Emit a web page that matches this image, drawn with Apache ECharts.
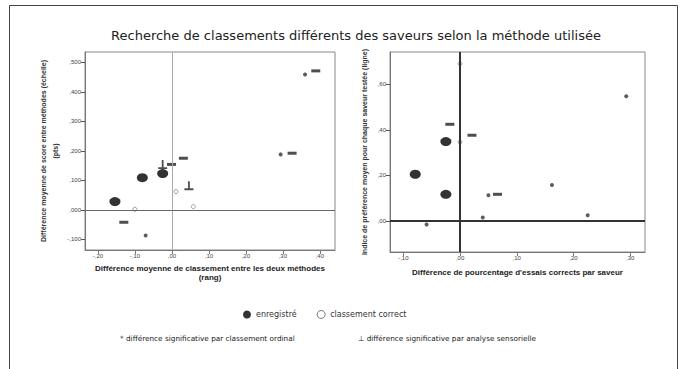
<!DOCTYPE html>
<html><head><meta charset="utf-8">
<script src="https://cdn.jsdelivr.net/npm/echarts@6/dist/echarts.min.js"></script>
<style>html,body{margin:0;padding:0;background:#fff}#c{width:685px;height:369px}</style>
</head><body><div id="c"></div>
<script>
const titleText = "Recherche de classements différents des saveurs selon la méthode utilisée";
const legendNames = ["enregistré", "classement correct"];
const footnoteStar = "* différence significative par classement ordinal";
const footnotePerp = "⊥ différence significative par analyse sensorielle";

const leftXName = "Différence moyenne de classement entre les deux méthodes\n(rang)";
const leftYName = "Différence moyenne de score entre méthodes (échelle)\n(pts)";
const rightXName = "Différence de pourcentage d'essais corrects par saveur";
const rightYName = "Indice de préférence moyen pour chaque saveur testée (ligne)";

const leftXTicks = [-0.2, -0.1, 0, 0.1, 0.2, 0.3, 0.4];
const leftXTickLabels = ['-,20', '-,10', ',00', ',10', ',20', ',30', ',40'];
const leftYTicks = [-0.1, 0, 0.1, 0.2, 0.3, 0.4, 0.5];
const leftYTickLabels = ['-,100', ',000', ',100', ',200', ',300', ',400', ',500'];
const rightXTicks = [-0.1, 0, 0.1, 0.2, 0.3];
const rightXTickLabels = ['-,10', ',00', ',10', ',20', ',30'];
const rightYTicks = [0, 0.2, 0.4, 0.6];
const rightYTickLabels = [',00', ',20', ',40', ',60'];

// left panel points [x, y]
const leftRecorded = [[-0.154, 0.028], [-0.080, 0.109], [-0.025, 0.123]];
const leftCorrect = [[-0.100, 0.002], [0.011, 0.062], [0.058, 0.011]];
const leftDash = [[-0.130, -0.042], [-0.001, 0.154], [0.031, 0.175], [0.325, 0.192], [0.389, 0.471]];
const leftPerp = [[-0.025, 0.154], [0.046, 0.082]];
const leftStar = [[-0.071, -0.087], [0.294, 0.188], [0.360, 0.459]];

// right panel points [x, y]
const rightRecorded = [[-0.079, 0.205], [-0.025, 0.348], [-0.025, 0.117]];
const rightCorrect = [[0.0, 0.690], [0.0, 0.346]];
const rightDash = [[-0.018, 0.424], [0.021, 0.376], [0.066, 0.117]];
const rightPerp = [];
const rightStar = [[-0.059, -0.015], [0.040, 0.015], [0.050, 0.113], [0.162, 0.158], [0.225, 0.025], [0.293, 0.547]];

const FONT = 'Liberation Sans';
const FONT2 = 'DejaVu Sans';
function fmt(ticks, labels) {
  return v => { const i = ticks.findIndex(t => Math.abs(t - v) < 1e-9); return i >= 0 ? labels[i] : ''; };
}
function xAxis(gi, min, max, ticks, labels, name, gap) {
  return {
    type: 'value', gridIndex: gi, min, max, position: 'bottom',
    name, nameLocation: 'middle', nameGap: gap,
    nameTextStyle: { fontFamily: FONT, fontSize: 8, fontWeight: 'bold', color: '#222', lineHeight: 9 },
    axisLine: { show: true, onZero: false, lineStyle: { color: '#777', width: 1 } },
    axisTick: { show: true, length: 4, customValues: ticks, lineStyle: { color: '#777' } },
    axisLabel: { customValues: ticks, formatter: fmt(ticks, labels), fontFamily: FONT, fontSize: 6, color: '#444', margin: 3 },
    splitLine: { show: false }
  };
}
function yAxis(gi, min, max, ticks, labels, name, gap) {
  return {
    type: 'value', gridIndex: gi, min, max, position: 'left',
    name, nameLocation: 'middle', nameGap: gap, nameRotate: 90,
    nameTextStyle: { fontFamily: FONT, fontSize: 7, fontWeight: 'bold', color: '#333', lineHeight: 12 },
    axisLine: { show: true, onZero: false, lineStyle: { color: '#777', width: 1 } },
    axisTick: { show: true, length: 4, customValues: ticks, lineStyle: { color: '#555' } },
    axisLabel: { customValues: ticks, formatter: fmt(ticks, labels), fontFamily: FONT, fontSize: 6, color: '#444', margin: 4 },
    splitLine: { show: false }
  };
}
const perpPath = 'path://M0,8 H10 V10 H0 Z M4,0 H6 V8 H4 Z';
function panel(gi, rec, cor, dash, perp, star, refVColor, refHColor, refW) {
  return [
    { type: 'scatter', name: legendNames[0], xAxisIndex: gi, yAxisIndex: gi, data: rec, symbol: 'circle', symbolSize: [11, 9],
      itemStyle: { color: '#000' }, z: 5,
      markLine: { silent: true, symbol: 'none', label: { show: false },
        data: [{ xAxis: 0, lineStyle: { color: refVColor, width: refW, type: 'solid' } },
               { yAxis: 0, lineStyle: { color: refHColor, width: refW, type: 'solid' } }] } },
    { type: 'scatter', name: legendNames[1], xAxisIndex: gi, yAxisIndex: gi, data: cor, symbol: 'circle', symbolSize: 4,
      itemStyle: { color: '#fff', borderColor: '#888', borderWidth: 1 } },
    { type: 'scatter', name: 'dash', xAxisIndex: gi, yAxisIndex: gi, data: dash, symbol: 'rect', symbolSize: [9, 3],
      itemStyle: { color: '#222' } },
    { type: 'scatter', name: 'perp', xAxisIndex: gi, yAxisIndex: gi, data: perp, symbol: perpPath, symbolSize: [9, 9],
      itemStyle: { color: '#222' } },
    { type: 'scatter', name: 'star', xAxisIndex: gi, yAxisIndex: gi, data: star, symbol: 'circle', symbolSize: 4,
      itemStyle: { color: '#333' } }
  ];
}

const chart = echarts.init(document.getElementById('c'), null, { renderer: 'svg' });
chart.setOption({
  animation: false,
  backgroundColor: '#fff',
  title: { text: titleText, left: 351, top: 24, textAlign: 'center',
    textStyle: { fontFamily: FONT2, fontSize: 13, fontWeight: 'normal', color: '#222' } },
  legend: {
    data: [
      { name: legendNames[0], icon: 'circle', itemStyle: { color: '#000', borderWidth: 0 } },
      { name: legendNames[1], icon: 'circle', itemStyle: { color: '#fff', borderColor: '#555', borderWidth: 1 } }
    ],
    left: 238, top: 305, itemWidth: 8, itemHeight: 8, itemGap: 20,
    textStyle: { fontFamily: FONT2, fontSize: 8, color: '#333' },
    selectedMode: false
  },
  graphic: [
    { type: 'rect', shape: { x: 9.5, y: 5.5, width: 668, height: 380 }, style: { fill: 'none', stroke: '#444', lineWidth: 1 }, silent: true },
    { type: 'text', left: 120, top: 335, style: { text: footnoteStar, fontFamily: FONT2, fontSize: 7.3, fill: '#222' } },
    { type: 'text', left: 358, top: 335, style: { text: footnotePerp, fontFamily: FONT2, fontSize: 7.3, fill: '#222' } }
  ],
  grid: [
    { left: 85, top: 52, width: 250, height: 198, show: true, borderColor: '#888', borderWidth: 1, backgroundColor: '#fff' },
    { left: 390, top: 52, width: 255, height: 200, show: true, borderColor: '#888', borderWidth: 1, backgroundColor: '#fff' }
  ],
  xAxis: [
    xAxis(0, -0.235, 0.441, leftXTicks, leftXTickLabels, leftXName, 13),
    xAxis(1, -0.1235, 0.326, rightXTicks, rightXTickLabels, rightXName, 16)
  ],
  yAxis: [
    yAxis(0, -0.136, 0.535, leftYTicks, leftYTickLabels, leftYName, 24),
    yAxis(1, -0.136, 0.741, rightYTicks, rightYTickLabels, rightYName, 20)
  ],
  series: [
    ...panel(0, leftRecorded, leftCorrect, leftDash, leftPerp, leftStar, '#aaa', '#666', 1),
    ...panel(1, rightRecorded, rightCorrect, rightDash, rightPerp, rightStar, '#333', '#333', 2)
  ]
});
</script></body></html>
